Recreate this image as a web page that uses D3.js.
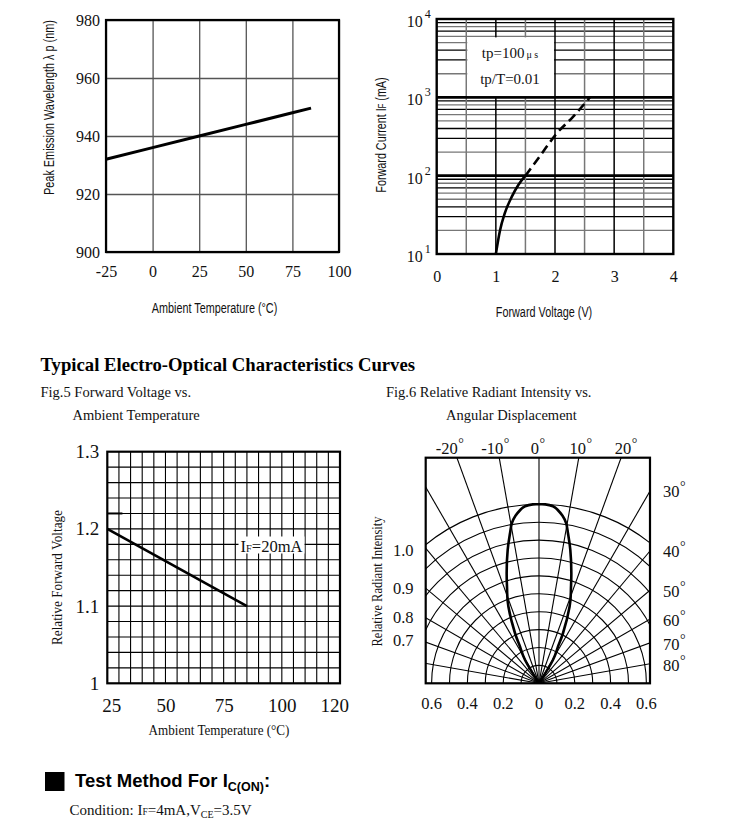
<!DOCTYPE html>
<html><head><meta charset="utf-8">
<script src="https://cdn.jsdelivr.net/npm/d3@7"></script>
<style>body{margin:0;background:#fff} svg{display:block}</style>
</head><body><svg id="c" width="750" height="837"></svg>
<script>
// ---------- DATA ----------
// Fig: Peak emission wavelength vs ambient temperature
const wlTemps  = [-25, 0, 25, 50, 75, 85];
const wlValues = [932, 936, 940, 944, 948, 949.6];
const wlXTicks = [-25, 0, 25, 50, 75, 100];
const wlYTicks = [900, 920, 940, 960, 980];

// Fig: Forward current vs forward voltage (log)
const ifVoltSolid = [1.0, 1.07, 1.15, 1.27, 1.38, 1.5];
const ifCurrSolid = [10, 20, 33, 54, 76, 100];
const ifVoltDash  = [1.5, 1.75, 2.03, 2.3, 2.59];
const ifCurrDash  = [100, 180, 347, 560, 1000];
const ifXTicks = [0, 1, 2, 3, 4];
const ifYTicks = [10, 100, 1000, 10000];
const ifNote = ["tp=100", "tp/T=0.01"];

// Fig.5 Relative forward voltage vs ambient temperature
const vfTemps  = [25, 85];
const vfValues = [1.2, 1.1];
const vfMarkTemps  = [25, 31.5];
const vfMarkValues = [1.22, 1.22];
const vfXTicks = [25, 50, 75, 100, 120];
const vfYTicks = [1, 1.1, 1.2, 1.3];

// Fig.6 Relative radiant intensity vs angular displacement
const lobeAngles    = [-34.5,-31,-27.4,-25.6,-21.8,-18.9,-16.4,-13.2,-10.9,-9.7,-8.0,-6.1,-4.5,-2,0,2,4.5,6.1,8.0,9.7,10.9,13.2,16.4,18.9,21.8,25.6,27.4,31,34.5];
const lobeIntensity = [0,0.15,0.23,0.31,0.46,0.55,0.64,0.766,0.855,0.905,0.945,0.975,0.992,1.0,1.0,1.0,0.992,0.975,0.945,0.905,0.855,0.766,0.64,0.55,0.46,0.31,0.23,0.15,0];
const polarRings = [0.1,0.2,0.3,0.4,0.5,0.6,0.7,0.8,0.9,1.0];
const polarSpokes = [-80,-70,-60,-50,-40,-30,-20,-10,0,10,20,30,40,50,60,70,80];
const polarTopAngles = [-20, -10, 0, 10, 20];
const polarSideAngles = [30, 40, 50, 60, 70, 80];
const polarLeftLabels = ["1.0", "0.9", "0.8", "0.7"];
const polarBottomTicks = [-0.6, -0.4, -0.2, 0, 0.2, 0.4, 0.6];

// ---------- DRAW ----------
const serif = "'Liberation Serif','Times New Roman',serif";
const sans = "'Liberation Sans',Arial,sans-serif";
const ink = "#111";
const svg = d3.select("#c");
svg.append("rect").attr("width", 750).attr("height", 837).attr("fill", "#fff");

function styleAxis(g, color, width, font, size) {
  g.select(".domain").remove();
  g.selectAll(".tick line").attr("stroke", color).attr("stroke-width", width);
  g.selectAll(".tick text").attr("font-family", font).attr("font-size", size).attr("fill", ink);
}
function squeeze(t, x, y, rot, len) {
  const nat = t.node().getComputedTextLength();
  const sx = Math.min(1, len / nat);
  t.attr("text-anchor", "middle")
   .attr("transform", `translate(${x},${y})` + (rot ? " rotate(-90)" : "") + ` scale(${sx},1)`);
  return t;
}
function narrowText(parent, x, y, rot, len, size, str, font) {
  const t = parent.append("text").attr("font-family", font || sans).attr("font-size", size)
    .attr("fill", ink).text(str);
  return squeeze(t, x, y, rot, len);
}

// ===== Chart 1 =====
{
  const x = d3.scaleLinear().domain([-25, 100]).range([106, 339]);
  const y = d3.scaleLinear().domain([900, 980]).range([252, 20]);
  const g = svg.append("g");
  const H = y(900) - y(980), W = x(100) - x(-25);
  const ax = g.append("g").attr("transform", `translate(0,${y(900)})`)
    .call(d3.axisBottom(x).tickValues(wlXTicks).tickSize(-H).tickPadding(14).tickFormat(d => String(d)));
  styleAxis(ax, "#555", 1.3, serif, 16);
  const ay = g.append("g").attr("transform", `translate(${x(-25)},0)`)
    .call(d3.axisLeft(y).tickValues(wlYTicks).tickSize(-W).tickPadding(6).tickFormat(d => String(d)));
  styleAxis(ay, "#555", 1.3, serif, 16);
  g.append("rect").attr("x", x(-25)).attr("y", y(980)).attr("width", W).attr("height", H)
    .attr("fill", "none").attr("stroke", "#000").attr("stroke-width", 2.2);
  const line = d3.line().x(d => x(d[0])).y(d => y(d[1]));
  g.append("path").attr("d", line(wlTemps.map((t, i) => [t, wlValues[i]])))
    .attr("fill", "none").attr("stroke", "#000").attr("stroke-width", 3);
  narrowText(g, 214.5, 313, false, 125.6, 15, "Ambient Temperature (°C)");
  narrowText(g, 53.5, 107.5, true, 175, 15, "Peak Emission Wavelength  λ p (nm)");
}

// ===== Chart 2 =====
{
  const x = d3.scaleLinear().domain([0, 4]).range([436.7, 673.3]);
  const y = d3.scaleLog().domain([10, 10000]).range([254, 19]);
  const g = svg.append("g");
  const W = x(4) - x(0), H = y(10) - y(10000);
  const minors = [];
  [10, 100, 1000].forEach(dec => { for (let k = 2; k <= 9; k++) minors.push([dec * k, k]); });
  g.selectAll(".hmin").data(minors).join("line")
    .attr("x1", x(0)).attr("x2", x(4)).attr("y1", d => y(d[0])).attr("y2", d => y(d[0]))
    .attr("stroke", d => [2, 5, 6, 8].includes(d[1]) ? "#777" : "#000").attr("stroke-width", 1.3);
  g.selectAll(".vg").data(d3.range(0.5, 4, 0.5)).join("line")
    .attr("x1", d => x(d)).attr("x2", d => x(d)).attr("y1", y(10000)).attr("y2", y(10))
    .attr("stroke", d => Number.isInteger(d) ? "#000" : "#777").attr("stroke-width", 1.5);
  g.selectAll(".hmaj").data([100, 1000]).join("line")
    .attr("x1", x(0)).attr("x2", x(4)).attr("y1", d => y(d)).attr("y2", d => y(d))
    .attr("stroke", "#000").attr("stroke-width", 2.6);
  g.append("rect").attr("x", x(0.5) + 1).attr("y", y(6000) + 1)
    .attr("width", x(2) - x(0.5) - 2).attr("height", y(1000) - y(6000) - 2.3).attr("fill", "#fff");
  const t1 = g.append("text").attr("x", 510).attr("y", 58).attr("text-anchor", "middle")
    .attr("font-family", serif).attr("font-size", 15).attr("fill", ink);
  t1.append("tspan").text(ifNote[0]);
  t1.append("tspan").attr("font-size", 10).attr("dx", 2).text("μ s");
  g.append("text").attr("x", 510).attr("y", 84).attr("text-anchor", "middle")
    .attr("font-family", serif).attr("font-size", 15).attr("fill", ink).text(ifNote[1]);
  g.append("rect").attr("x", x(0)).attr("y", y(10000)).attr("width", W).attr("height", H)
    .attr("fill", "none").attr("stroke", "#000").attr("stroke-width", 2.4);
  const ax = g.append("g").attr("transform", `translate(0,${y(10)})`)
    .call(d3.axisBottom(x).tickValues(ifXTicks).tickSize(0).tickPadding(17).tickFormat(d => String(d)));
  styleAxis(ax, "none", 0, serif, 16);
  const ay = g.append("g").attr("transform", `translate(${x(0)},0)`)
    .call(d3.axisLeft(y).tickValues(ifYTicks).tickSize(0).tickPadding(6).tickFormat(() => ""));
  styleAxis(ay, "none", 0, serif, 16);
  ay.selectAll(".tick text").attr("dy", null).attr("y", 7.5).each(function (d) {
    const t = d3.select(this);
    t.append("tspan").text("10");
    t.append("tspan").attr("font-size", 12).attr("dy", -9).attr("dx", 2).text(String(Math.round(Math.log10(d))));
  });
  const line = d3.line().x(d => x(d[0])).y(d => y(d[1])).curve(d3.curveMonotoneX);
  g.append("path").attr("d", line(ifVoltSolid.map((v, i) => [v, ifCurrSolid[i]])))
    .attr("fill", "none").attr("stroke", "#000").attr("stroke-width", 2.6);
  g.append("path").attr("d", line(ifVoltDash.map((v, i) => [v, ifCurrDash[i]])))
    .attr("fill", "none").attr("stroke", "#000").attr("stroke-width", 2.6).attr("stroke-dasharray", "9,5");
  narrowText(g, 544, 317, false, 96.6, 15, "Forward Voltage (V)");
  const yt = g.append("text").attr("font-family", sans).attr("font-size", 14.5).attr("fill", ink);
  yt.append("tspan").text("Forward Current I");
  yt.append("tspan").attr("font-size", 10).text("F");
  yt.append("tspan").text(" (mA)");
  squeeze(yt, 385.5, 135, true, 115.4);
}

// ===== Headings =====
svg.append("text").attr("x", 40.5).attr("y", 371).attr("font-family", serif).attr("font-weight", "bold")
  .attr("font-size", 18.7).attr("fill", "#000").text("Typical Electro-Optical Characteristics Curves");
svg.append("text").attr("x", 40.5).attr("y", 396.5).attr("font-family", serif).attr("font-size", 14.5)
  .attr("fill", ink).text("Fig.5 Forward Voltage vs.");
svg.append("text").attr("x", 72.5).attr("y", 420).attr("font-family", serif).attr("font-size", 14.5)
  .attr("fill", ink).text("Ambient Temperature");
svg.append("text").attr("x", 386).attr("y", 396.5).attr("font-family", serif).attr("font-size", 14.5)
  .attr("fill", ink).text("Fig.6 Relative Radiant Intensity vs.");
svg.append("text").attr("x", 446).attr("y", 420).attr("font-family", serif).attr("font-size", 14.5)
  .attr("fill", ink).text("Angular Displacement");

// ===== Chart 3 (Fig.5) =====
{
  const x = d3.scaleLinear().domain([25, 125]).range([107.3, 340]);
  const y = d3.scaleLinear().domain([1, 1.3]).range([683.3, 451.7]);
  const g = svg.append("g");
  const W = x(125) - x(25), H = y(1) - y(1.3);
  g.selectAll(".vg").data(d3.range(30, 125, 5)).join("line")
    .attr("x1", d => x(d)).attr("x2", d => x(d)).attr("y1", y(1.3)).attr("y2", y(1))
    .attr("stroke", "#000").attr("stroke-width", 1.1);
  g.selectAll(".hg").data(d3.range(1, 15).map(i => 1 + i * 0.02)).join("line")
    .attr("x1", x(25)).attr("x2", x(125)).attr("y1", d => y(d)).attr("y2", d => y(d))
    .attr("stroke", "#000").attr("stroke-width", 1.1);
  g.append("rect").attr("x", x(25)).attr("y", y(1.3)).attr("width", W).attr("height", H)
    .attr("fill", "none").attr("stroke", "#000").attr("stroke-width", 2.2);
  const ax = g.append("g").attr("transform", `translate(0,${y(1)})`)
    .call(d3.axisBottom(x).tickValues(vfXTicks).tickSize(0).tickPadding(15).tickFormat(d => String(d)));
  styleAxis(ax, "none", 0, serif, 19);
  ax.selectAll(".tick text").attr("dx", d => d === 25 ? 4 : (d === 120 ? 6 : 0));
  const ay = g.append("g").attr("transform", `translate(${x(25)},0)`)
    .call(d3.axisLeft(y).tickValues(vfYTicks).tickSize(0).tickPadding(8).tickFormat(d => d === 1 ? "1" : d.toFixed(1)));
  styleAxis(ay, "none", 0, serif, 19);
  const line = d3.line().x(d => x(d[0])).y(d => y(d[1]));
  g.append("path").attr("d", line(vfTemps.map((t, i) => [t, vfValues[i]])))
    .attr("fill", "none").attr("stroke", "#000").attr("stroke-width", 2.6);
  g.append("path").attr("d", line(vfMarkTemps.map((t, i) => [t, vfMarkValues[i]])))
    .attr("fill", "none").attr("stroke", "#000").attr("stroke-width", 2);
  g.append("rect").attr("x", 238.5).attr("y", 536.5).attr("width", 66).attr("height", 17).attr("fill", "#fff");
  const lt = g.append("text").attr("font-family", serif).attr("font-size", 17.5).attr("fill", ink);
  lt.append("tspan").text("I");
  lt.append("tspan").attr("font-size", 11).text("F");
  lt.append("tspan").text("=20mA");
  squeeze(lt, 271.5, 551.5, false, 62);
  narrowText(g, 219, 735, false, 141, 15, "Ambient Temperature (°C)", serif);
  narrowText(g, 62, 577.5, true, 135, 15, "Relative Forward Voltage", serif);
}

// ===== Chart 4 (Fig.6) =====
{
  const box = { x0: 425.7, x1: 650, y0: 457.7, y1: 683.3 };
  const cx = 539, cy = box.y1;
  const r = d3.scaleLinear().domain([0, 1]).range([0, 179]);
  const g = svg.append("g");
  svg.append("clipPath").attr("id", "pclip").append("rect")
    .attr("x", box.x0).attr("y", box.y0).attr("width", box.x1 - box.x0).attr("height", box.y1 - box.y0);
  const grid = g.append("g").attr("clip-path", "url(#pclip)");
  grid.selectAll(".ring").data(polarRings).join("path")
    .attr("d", d => { const p = d3.path(); p.moveTo(cx - r(d), cy); p.arc(cx, cy, r(d), Math.PI, 2 * Math.PI); return p.toString(); })
    .attr("fill", "none").attr("stroke", "#000").attr("stroke-width", 1.1);
  grid.selectAll(".spoke").data(polarSpokes).join("line")
    .attr("x1", cx).attr("y1", cy)
    .attr("x2", d => cx + 400 * Math.sin(d * Math.PI / 180))
    .attr("y2", d => cy - 400 * Math.cos(d * Math.PI / 180))
    .attr("stroke", "#000").attr("stroke-width", 1.1);
  const radial = d3.lineRadial().angle(d => d[0] * Math.PI / 180).radius(d => r(d[1])).curve(d3.curveNatural);
  g.append("path").attr("transform", `translate(${cx},${cy})`)
    .attr("d", radial(lobeAngles.map((a, i) => [a, lobeIntensity[i]])))
    .attr("fill", "none").attr("stroke", "#000").attr("stroke-width", 2.6);
  g.append("rect").attr("x", box.x0).attr("y", box.y0).attr("width", box.x1 - box.x0).attr("height", box.y1 - box.y0)
    .attr("fill", "none").attr("stroke", "#000").attr("stroke-width", 2.2);
  const H = box.y1 - box.y0, halfW = (box.x1 - box.x0) / 2;
  polarTopAngles.forEach(a => {
    const lx = cx + H * Math.tan(a * Math.PI / 180) + a * 0.3 - 1;
    const t = g.append("text").attr("x", lx).attr("y", 454).attr("text-anchor", "middle")
      .attr("font-family", serif).attr("font-size", 16.5).attr("fill", ink);
    t.append("tspan").text(String(a));
    t.append("tspan").attr("font-size", 14).attr("dy", -6).attr("dx", 0.5).text("°");
  });
  polarSideAngles.forEach(a => {
    const ly = cy - halfW / Math.tan(a * Math.PI / 180);
    const t = g.append("text").attr("x", 663).attr("y", ly + 7.5)
      .attr("font-family", serif).attr("font-size", 16.5).attr("fill", ink);
    t.append("tspan").text(String(a));
    t.append("tspan").attr("font-size", 14).attr("dy", -6).attr("dx", 0.5).text("°");
  });
  const leftY = [555.5, 593.5, 622.5, 645.5];
  polarLeftLabels.forEach((s, i) => {
    g.append("text").attr("x", 413.5).attr("y", leftY[i]).attr("text-anchor", "end")
      .attr("font-family", serif).attr("font-size", 16.5).attr("fill", ink).text(s);
  });
  polarBottomTicks.forEach(v => {
    g.append("text").attr("x", cx + Math.sign(v) * r(Math.abs(v))).attr("y", 709)
      .attr("text-anchor", "middle").attr("font-family", serif).attr("font-size", 16.5).attr("fill", ink)
      .text(v === 0 ? "0" : Math.abs(v).toFixed(1));
  });
  narrowText(g, 381.5, 581.5, true, 130, 14, "Relative Radiant Intensity", serif);
}

// ===== Test method =====
svg.append("rect").attr("x", 45).attr("y", 772).attr("width", 19.5).attr("height", 19).attr("fill", "#000");
{
  const t = svg.append("text").attr("x", 75).attr("y", 787).attr("font-family", sans).attr("font-weight", "bold")
    .attr("font-size", 18.5).attr("fill", "#000");
  t.append("tspan").text("Test Method For I");
  t.append("tspan").attr("font-size", 12.5).attr("dy", 4).text("C(ON)");
  t.append("tspan").attr("dy", -4).text(":");
  const c = svg.append("text").attr("x", 69.5).attr("y", 815).attr("font-family", serif)
    .attr("font-size", 15).attr("fill", ink);
  c.append("tspan").text("Condition: I");
  c.append("tspan").attr("font-size", 9.5).text("F");
  c.append("tspan").text("=4mA,V");
  c.append("tspan").attr("font-size", 10).attr("dy", 2.5).text("CE");
  c.append("tspan").attr("dy", -2.5).text("=3.5V");
}
</script></body></html>
